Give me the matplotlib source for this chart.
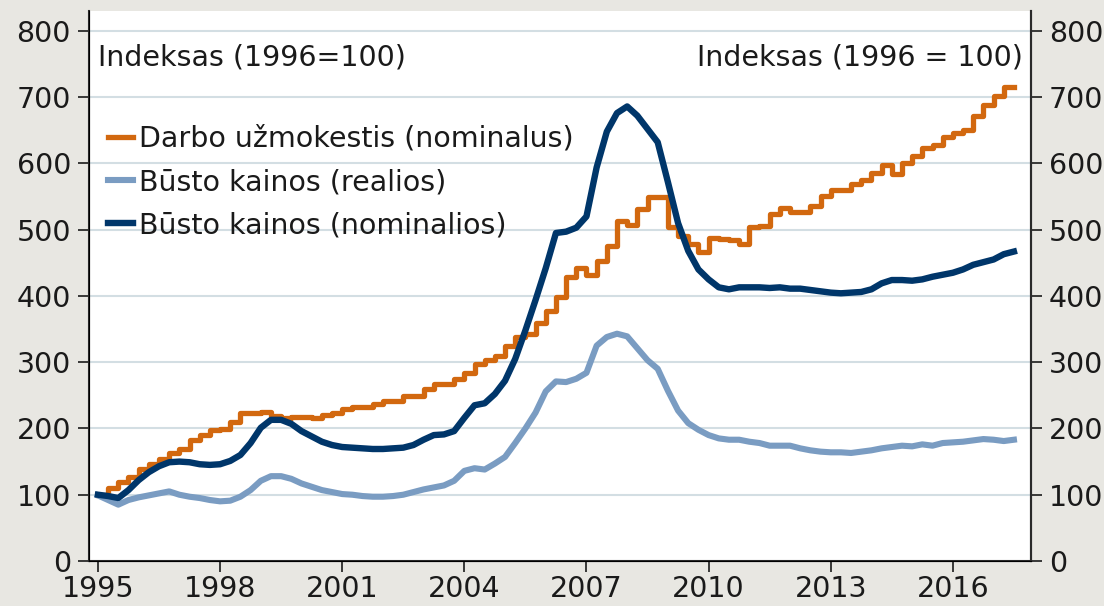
import numpy as np
import matplotlib
matplotlib.use("Agg")
import matplotlib.pyplot as plt

# quarterly data, first quarter = 1995 Q1
start_year = 1995

# darbo uzmokestis (nominalus), 1995Q1 - 2017Q2
wage = [100, 110, 119, 126, 139, 146, 154, 163, 169, 183, 190, 197, 199, 209, 223, 223, 225, 219, 216, 217, 218, 216, 220, 224, 230,
        233, 233, 237, 242, 242, 249, 249, 259, 267, 267, 275, 284, 297, 304, 310, 325, 338, 343, 359, 377, 398,
        429, 442, 432, 453, 475, 513, 507, 531, 549, 549, 504, 491, 478, 467, 487, 486, 485, 478, 504, 505,
        523, 532, 527, 527, 536, 551, 560, 560, 569, 575, 585, 598, 584, 601, 611, 624, 628, 640, 646, 650, 671, 688, 702, 716]

# busto kainos (realios), 1995Q1 - 2017Q3
house_real = [99, 92, 85, 92, 96, 99, 102, 105, 100, 97, 95, 92, 90, 91, 97, 107, 121, 128, 128, 124, 117, 112, 107, 104, 101,
              100, 98, 97, 97, 98, 100, 104, 108, 111, 114, 121, 136, 140, 138, 147, 157, 178, 200, 224, 256, 271, 270, 275, 284,
              325, 338, 343, 339, 321, 303, 290, 257, 227, 208, 198, 190, 185, 183, 183, 180, 178, 174,
              174, 174, 170, 167, 165, 164, 164, 163, 165, 167, 170, 172, 174, 173, 176, 174, 178, 179, 180, 182, 184, 183, 181, 183]

# busto kainos (nominalios), 1995Q1 - 2017Q3
house_nom = [100, 98, 95, 107, 122, 134, 143, 149, 150, 149, 146, 145, 146, 151, 160, 178, 201, 213, 213, 207, 196, 188, 180, 175, 172,
             171, 170, 169, 169, 170, 171, 175, 183, 190, 191, 196, 216, 235, 238, 252, 272, 305, 348, 394, 442, 495, 497, 503, 520,
             594, 648, 676, 686, 672, 652, 632, 572, 510, 468, 440, 425, 413, 410, 413, 413, 413, 412,
             413, 411, 411, 409, 407, 405, 404, 405, 406, 410, 419, 424, 424, 423, 425, 429, 432, 435, 440, 447, 451, 455, 463, 467]

labels = ["Darbo užmokestis (nominalus)", "Būsto kainos (realios)", "Būsto kainos (nominalios)"]
colors = ["#d2680f", "#7a9cc2", "#00366a"]
year_ticks = [1995, 1998, 2001, 2004, 2007, 2010, 2013, 2016]
y_ticks = [0, 100, 200, 300, 400, 500, 600, 700, 800]

plt.rcParams['font.family'] = ['DejaVu Sans']
txt_color = "#1a1a1a"
fs = 20.5

fig = plt.figure(figsize=(11.04, 6.06), dpi=100, facecolor="#e8e7e2")
ax = fig.add_axes([0.0806, 0.0743, 0.9339 - 0.0806, 0.9818 - 0.0743])
ax.set_facecolor("white")

t_wage = start_year + np.arange(len(wage) + 1) / 4
t_house = start_year + np.arange(len(house_nom)) / 4

ax.step(t_wage, wage + [wage[-1]], where="post", color=colors[0], lw=3.8, label=labels[0], zorder=3)
ax.plot(t_house, house_real, color=colors[1], lw=4.4, label=labels[1], zorder=3, solid_capstyle="projecting")
ax.plot(t_house, house_nom, color=colors[2], lw=4.6, label=labels[2], zorder=4, solid_capstyle="projecting")

ax.set_xlim(1994.78, 2017.92)
ax.set_ylim(0, 830)
ax.set_xticks(year_ticks)
ax.set_yticks(y_ticks)
for v in y_ticks[1:]:
    ax.axhline(v, color="#d3dee3", lw=1.5, zorder=1)

ax.spines["top"].set_visible(False)
for s in ["left", "right", "bottom"]:
    ax.spines[s].set_color("#2a2a2a")
    ax.spines[s].set_linewidth(1.5)

ax.tick_params(axis="both", labelsize=fs, colors="#2a2a2a", labelcolor=txt_color, width=1.3)
ax.tick_params(axis="y", length=8, pad=5)
ax.tick_params(axis="x", length=8, pad=2)

ax2 = ax.twinx()
ax2.set_ylim(ax.get_ylim())
ax2.set_yticks(y_ticks)
ax2.spines["top"].set_visible(False)
ax2.spines["right"].set_color("#2a2a2a")
ax2.spines["right"].set_linewidth(1.5)
ax2.tick_params(axis="y", labelsize=fs, colors="#2a2a2a", labelcolor=txt_color, length=8, pad=5, width=1.3)

ax.text(0.0095, 0.915, "Indeksas (1996=100)", transform=ax.transAxes, fontsize=fs,
        color=txt_color, ha="left", va="center")
ax.text(0.9915, 0.915, "Indeksas (1996 = 100)", transform=ax.transAxes, fontsize=fs,
        color=txt_color, ha="right", va="center")

leg = ax.legend(loc="center left", bbox_to_anchor=(0.0202, 0.689), frameon=False, fontsize=fs,
                handlelength=0.88, handletextpad=0.21, labelspacing=0.53, borderpad=0, borderaxespad=0)
for t in leg.get_texts():
    t.set_color(txt_color)

fig.savefig("out.png", dpi=100, facecolor=fig.get_facecolor())
